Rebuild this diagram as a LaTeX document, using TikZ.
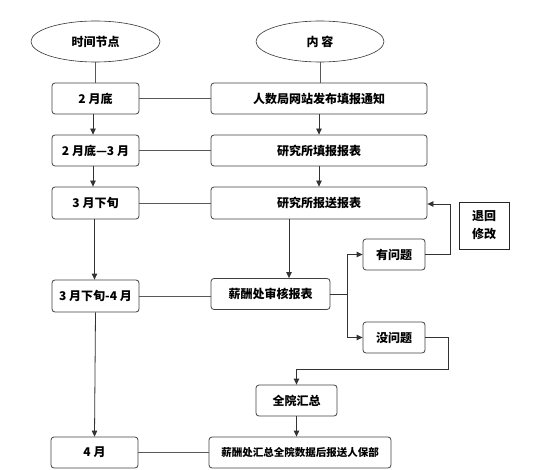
\documentclass[tikz,border=0pt]{standalone}
\usepackage{fontspec}
\setmainfont{Noto Sans CJK SC}
\usetikzlibrary{shapes.geometric,arrows.meta}
\tikzset{
  base/.style={draw=black!75, line width=0.8pt, inner sep=0pt, font=\bfseries\fontsize{12}{14}\selectfont},
  box/.style={base, rectangle, rounded corners=3pt},
  oval/.style={base, ellipse, draw=black!80, line width=0.6pt},
  plainbox/.style={base, rectangle, draw=black!85, line width=0.6pt},
  link/.style={draw=black!65, line width=0.9pt},
  arr/.style={draw=black!80, line width=0.8pt, -{Triangle[length=6pt,width=5.5pt]}},
}
\begin{document}
\begin{tikzpicture}[x=1pt,y=-1pt]
\useasboundingbox (0,0) rectangle (543,470);
% ellipses
\node[oval, minimum width=129pt, minimum height=41pt] (e1) at (95.5,41.5) {时间节点};
\node[oval, minimum width=128pt, minimum height=41pt] (e2) at (320,41.5) {内\ 容};
% time column
\node[box, minimum width=87pt, minimum height=31pt] (t1) at (95.5,98.5) {2 月底};
\node[box, minimum width=87pt, minimum height=31pt] (t2) at (95.5,150.5) {2 月底—3 月};
\node[box, minimum width=87pt, minimum height=32pt] (t3) at (95.5,203) {3 月下旬};
\node[box, minimum width=87pt, minimum height=32pt] (t4) at (95.5,296) {3 月下旬-4 月};
\node[box, minimum width=87pt, minimum height=31pt] (t5) at (94.5,452.5) {4 月};
% content column
\node[box, minimum width=216pt, minimum height=31pt] (c1) at (319,98.5) {人数局网站发布填报通知};
\node[box, minimum width=216pt, minimum height=31pt] (c2) at (319,150.5) {研究所填报报表};
\node[box, minimum width=216pt, minimum height=32pt] (c3) at (319,203) {研究所报送报表};
\node[box, minimum width=119pt, minimum height=31pt] (c4) at (270.5,294) {薪酬处审核报表};
\node[box, minimum width=62pt, minimum height=31pt] (yq) at (394,254.5) {有问题};
\node[box, minimum width=62pt, minimum height=31pt] (nq) at (394,337.5) {没问题};
\node[plainbox, minimum width=50pt, minimum height=47pt, align=center] (rt) at (484,225.5) {退回\\[4pt]修改};
\node[box, minimum width=81pt, minimum height=31pt] (sm) at (296.5,400.5) {全院汇总};
\node[box, minimum width=182pt, minimum height=31pt, font=\bfseries\fontsize{10.5}{12}\selectfont] (c5) at (300,452.5) {薪酬处汇总全院数据后报送人保部};
% ellipse links
\draw[link] (e1.south) -- (e1.south |- t1.north);
\draw[link] (e2.south) -- (e2.south |- c1.north);
% horizontal links
\draw[link] (t1.east) -- (c1.west);
\draw[link] (t2.east) -- (c2.west);
\draw[link] (t3.east) -- (c3.west);
\draw[link] (t4.east) -- (c4.west |- t4.east);
\draw[link] (t5.east) -- (c5.west);
% vertical arrows, time column
\draw[arr] ([xshift=-2.5pt]t1.south) -- ([xshift=-2.5pt]t2.north);
\draw[arr] ([xshift=-2.5pt]t2.south) -- ([xshift=-2.5pt]t3.north);
\draw[arr] ([xshift=-1pt]t3.south) -- ([xshift=-1pt]t4.north);
\draw[arr] (t4.south) -- (t5.north);
% vertical arrows, content column
\draw[arr] (c1.south) -- (c2.north);
\draw[arr] (c2.south) -- (c3.north);
\coordinate (a1) at ([xshift=18.5pt]c3.south -| c4.north);
\draw[arr] (a1) -- (a1 |- c4.north);
% branches
\draw[arr] (c4.east) -- ++(17,0) |- (yq.west);
\draw[arr] (c4.east) -- ++(17,0) |- (nq.west);
\draw[arr] (yq.east) -- ++(25,0) |- ([yshift=-1pt]c3.east);
\draw[arr] (nq.east) -- ++(23,0) -- ++(0,31.5) -| (sm.north);
\draw[arr] (sm.south) -- (sm.south |- c5.north);
\end{tikzpicture}
\end{document}
